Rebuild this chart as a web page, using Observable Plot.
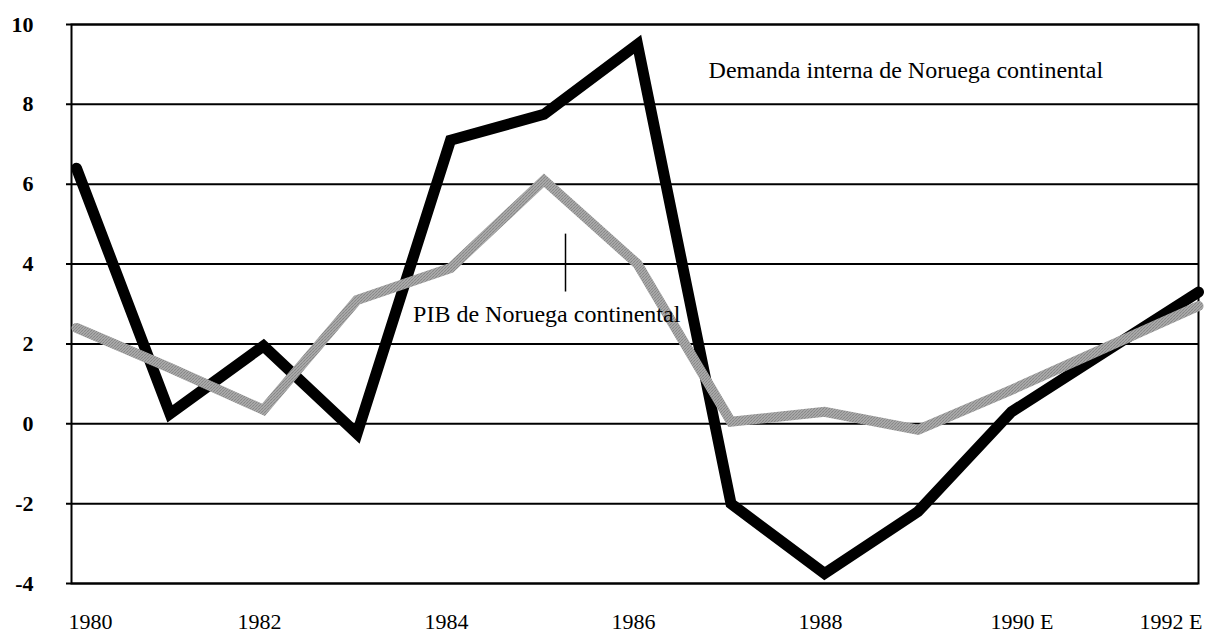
<!DOCTYPE html>
<html>
<head>
<meta charset="utf-8">
<script src="https://cdn.jsdelivr.net/npm/d3@7"></script>
<script src="https://cdn.jsdelivr.net/npm/@observablehq/plot@0.6"></script>
<style>
  html, body { margin: 0; padding: 0; background: #fff; }
  #chart svg { display: block; }
</style>
</head>
<body>
<div id="chart"></div>
<script>
// Years
const years = [1980, 1981, 1982, 1983, 1984, 1985, 1986, 1987, 1988, 1989, 1990, 1991, 1992];
// Demanda interna de Noruega continental (black)
const demanda = [6.4, 0.25, 1.95, -0.25, 7.1, 7.75, 9.5, -2.0, -3.75, -2.2, 0.3, 1.8, 3.3];
// PIB de Noruega continental (stippled grey)
const pib = [2.4, 1.4, 0.35, 3.1, 3.9, 6.1, 4.0, 0.05, 0.3, -0.15, 0.85, 1.9, 2.95];

// Axis ticks
const yTicks = [-4, -2, 0, 2, 4, 6, 8, 10];
const xTickYears = [1980, 1982, 1984, 1986, 1988, 1990, 1992];
const xTickLabels = ["1980", "1982", "1984", "1986", "1988", "1990 E", "1992 E"];

// Annotations
const annoDemanda = {text: "Demanda interna de Noruega continental", x: 1986.76, y: 8.85};
const annoPib = {text: "PIB de Noruega continental", x: 1983.6, y: 2.75};
const annoPibLeader = {x: 1985.23, y1: 3.3, y2: 4.75};

const seriesDem = years.map((y, i) => ({year: y, value: demanda[i]}));
const seriesPib = years.map((y, i) => ({year: y, value: pib[i]}));
const labelOf = d => xTickLabels[xTickYears.indexOf(d)];

const font = "'Liberation Serif', 'Times New Roman', serif";
const axisOpts = {tickSize: 0, tickPadding: 30, fontSize: 22, tickFormat: labelOf, label: null};

const chart = Plot.plot({
  width: 1209,
  height: 639,
  marginLeft: 71,
  marginRight: 11,
  marginTop: 24,
  marginBottom: 56,
  insetLeft: 5,
  style: {fontFamily: font, background: "#fff", color: "#000"},
  x: {domain: [1980, 1992]},
  y: {domain: [-4, 10]},
  marks: [
    Plot.ruleY(yTicks, {stroke: "#000", strokeWidth: 2, insetLeft: -5}),
    Plot.frame({stroke: "#000", strokeWidth: 2}),
    Plot.axisY(yTicks, {tickSize: 0, tickPadding: 38, fontSize: 22, fontWeight: "bold", tickFormat: d => String(d), label: null}),
    Plot.axisX([xTickYears[0]], {...axisOpts, textAnchor: "start", dx: -8}),
    Plot.axisX(xTickYears.slice(1, 5), {...axisOpts, dx: -4}),
    Plot.axisX([xTickYears[5]], {...axisOpts, textAnchor: "start", dx: -21}),
    Plot.axisX([xTickYears[6]], {...axisOpts, textAnchor: "end", dx: 4}),
    Plot.line(seriesDem, {x: "year", y: "value", stroke: "#000", strokeWidth: 11, strokeLinejoin: "miter", strokeMiterlimit: 3}),
    Plot.line(seriesPib, {x: "year", y: "value", stroke: "url(#stipple)", strokeWidth: 10, strokeLinejoin: "miter", strokeMiterlimit: 3}),
    Plot.text([annoDemanda], {x: "x", y: "y", text: "text", textAnchor: "start", fontSize: 24, fill: "#000"}),
    Plot.ruleX([annoPibLeader], {x: "x", y1: "y1", y2: "y2", stroke: "#000", strokeWidth: 1.5}),
    Plot.text([annoPib], {x: "x", y: "y", text: "text", textAnchor: "start", fontSize: 24, fill: "#000"})
  ]
});

// stipple pattern for the grey series
const ns = "http://www.w3.org/2000/svg";
const defs = document.createElementNS(ns, "defs");
defs.innerHTML = `<pattern id="stipple" patternUnits="userSpaceOnUse" width="3" height="3">
  <rect width="3" height="3" fill="#c4c4c4"/>
  <rect x="0" y="0" width="1" height="1" fill="#444"/>
  <rect x="2" y="1" width="1" height="1" fill="#5a5a5a"/>
  <rect x="1" y="2" width="1" height="1" fill="#505050"/>
</pattern>`;
chart.insertBefore(defs, chart.firstChild);

document.getElementById("chart").appendChild(chart);
</script>
</body>
</html>
